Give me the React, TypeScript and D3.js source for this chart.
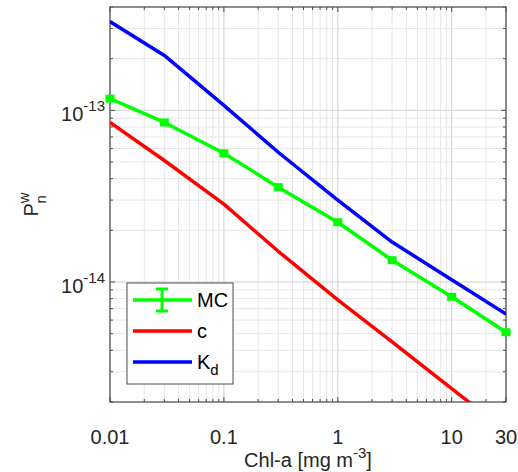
import React, { useRef, useEffect } from 'react';
import * as d3 from 'd3';

// Chl-a concentrations [mg m^-3]
const chl = [0.01, 0.03, 0.1, 0.3, 1, 3, 10, 30];
// series values
const mcVals = [1.17e-13, 8.5e-14, 5.62e-14, 3.57e-14, 2.23e-14, 1.34e-14, 8.2e-15, 5.1e-15];
const cVals = [8.5e-14, 5.1e-14, 2.84e-14, 1.51e-14, 7.86e-15, 4.48e-15, 2.39e-15, 1.36e-15];
const kdVals = [3.29e-13, 2.09e-13, 1.07e-13, 5.7e-14, 3.0e-14, 1.71e-14, 1.03e-14, 6.5e-15];
const xTicks = [0.01, 0.1, 1, 10, 30];
const xTickLabels = ['0.01', '0.1', '1', '10', '30'];
const yTickExps = [-14, -13];

const W = 518;
const H = 472;
const m = { left: 110, top: 7, right: 12, bottom: 70 };

const App = () => {
  const svgRef = useRef<SVGSVGElement>(null);

  useEffect(() => {
    const svg = d3.select(svgRef.current);
    svg.selectAll('*').remove();

    const x0 = m.left, x1 = W - m.right, y0 = m.top, y1 = H - m.bottom;
    const x = d3.scaleLog().domain([0.01, 30]).range([x0, x1]);
    const y = d3.scaleLog().domain([2e-15, 4e-13]).range([y1, y0]);

    svg.append('defs').append('clipPath').attr('id', 'plotclip')
      .append('rect').attr('x', x0).attr('y', y0).attr('width', x1 - x0).attr('height', y1 - y0);

    // minor / major grid values
    const xMinor: number[] = [];
    [0.01, 0.1, 1, 10].forEach((d) => {
      for (let k = 1; k <= 9; k++) if (d * k <= 30.0001) xMinor.push(d * k);
    });
    const yMinor: number[] = [];
    [1e-15, 1e-14, 1e-13].forEach((d) => {
      for (let k = 1; k <= 9; k++) {
        const v = d * k;
        if (v >= 2e-15 * 0.999 && v <= 4e-13 * 1.001) yMinor.push(v);
      }
    });

    const grid = svg.append('g');
    xMinor.forEach((v) => {
      grid.append('line').attr('x1', x(v)).attr('x2', x(v)).attr('y1', y0).attr('y2', y1)
        .attr('stroke', '#e6e6e6').attr('stroke-width', 1);
    });
    yMinor.forEach((v) => {
      grid.append('line').attr('x1', x0).attr('x2', x1).attr('y1', y(v)).attr('y2', y(v))
        .attr('stroke', '#e6e6e6').attr('stroke-width', 1);
    });
    xTicks.forEach((v) => {
      grid.append('line').attr('x1', x(v)).attr('x2', x(v)).attr('y1', y0).attr('y2', y1)
        .attr('stroke', '#dadada').attr('stroke-width', 1);
    });
    yTickExps.forEach((e) => {
      grid.append('line').attr('x1', x0).attr('x2', x1).attr('y1', y(10 ** e)).attr('y2', y(10 ** e))
        .attr('stroke', '#dadada').attr('stroke-width', 1);
    });

    // axes box + ticks
    const ax = svg.append('g').attr('stroke', '#4d4d4d');
    ax.append('rect').attr('x', x0).attr('y', y0).attr('width', x1 - x0).attr('height', y1 - y0)
      .attr('fill', 'none').attr('stroke-width', 1.2);
    xMinor.forEach((v) => {
      const major = xTicks.some((t) => Math.abs(t - v) / t < 1e-6);
      const len = major ? 5 : 3;
      ax.append('line').attr('x1', x(v)).attr('x2', x(v)).attr('y1', y1).attr('y2', y1 - len);
      ax.append('line').attr('x1', x(v)).attr('x2', x(v)).attr('y1', y0).attr('y2', y0 + len);
    });
    yMinor.forEach((v) => {
      const major = yTickExps.some((e) => Math.abs(10 ** e - v) / v < 1e-6);
      const len = major ? 5 : 3;
      ax.append('line').attr('x1', x0).attr('x2', x0 + len).attr('y1', y(v)).attr('y2', y(v));
      ax.append('line').attr('x1', x1).attr('x2', x1 - len).attr('y1', y(v)).attr('y2', y(v));
    });

    const font = 'Liberation Sans, Arial, sans-serif';
    // x tick labels
    xTicks.forEach((v, i) => {
      svg.append('text').attr('x', x(v)).attr('y', y1 + 42).attr('text-anchor', 'middle')
        .attr('font-family', font).attr('font-size', 20).attr('fill', '#262626').text(xTickLabels[i]);
    });
    // y tick labels 10^e
    yTickExps.forEach((e) => {
      const t = svg.append('text').attr('x', x0 - 5).attr('y', y(10 ** e) + 11).attr('text-anchor', 'end')
        .attr('font-family', font).attr('font-size', 20).attr('fill', '#262626');
      t.append('tspan').text('10');
      t.append('tspan').attr('dy', -10).attr('font-size', 15).text(String(e));
    });

    // axis labels
    const xl = svg.append('text').attr('x', (x0 + x1) / 2).attr('y', H - 5).attr('text-anchor', 'middle')
      .attr('font-family', font).attr('font-size', 20).attr('fill', '#262626');
    xl.append('tspan').text('Chl-a [mg m');
    xl.append('tspan').attr('dy', -9).attr('font-size', 15).text('-3');
    xl.append('tspan').attr('dy', 9).text(']');

    const yl = svg.append('text').attr('transform', `translate(38, ${(y0 + y1) / 2}) rotate(-90)`)
      .attr('text-anchor', 'middle').attr('font-family', font).attr('font-size', 20).attr('fill', '#262626');
    yl.append('tspan').text('P');
    yl.append('tspan').attr('dy', -9).attr('font-size', 15).text('w');
    yl.append('tspan').attr('dx', -11).attr('dy', 17).attr('font-size', 15).text('n');

    // series
    const line = d3.line<number>().x((_, i) => x(chl[i])).y((d) => y(d));
    const plot = svg.append('g').attr('clip-path', 'url(#plotclip)');
    const series = [
      { vals: cVals, color: '#ff0000' },
      { vals: kdVals, color: '#0000ff' },
      { vals: mcVals, color: '#00ff00' },
    ];
    series.forEach((s) => {
      plot.append('path').attr('d', line(s.vals)).attr('fill', 'none')
        .attr('stroke', s.color).attr('stroke-width', 3.5).attr('stroke-linejoin', 'round');
    });
    // MC markers (error bar caps)
    const mk = svg.append('g');
    mcVals.forEach((v, i) => {
      mk.append('rect').attr('x', x(chl[i]) - 4.5).attr('y', y(v) - 4).attr('width', 9).attr('height', 8)
        .attr('fill', '#00ff00');
    });

    // legend
    const lg = svg.append('g');
    const lx = 127, ly = 283, lw = 106, lh = 101;
    lg.append('rect').attr('x', lx).attr('y', ly).attr('width', lw).attr('height', lh)
      .attr('fill', '#fff').attr('stroke', '#4d4d4d').attr('stroke-width', 1);
    const entries = [
      { label: 'MC', sub: '', color: '#00ff00', err: true },
      { label: 'c', sub: '', color: '#ff0000', err: false },
      { label: 'K', sub: 'd', color: '#0000ff', err: false },
    ];
    entries.forEach((e, i) => {
      const yy = ly + 17 + i * 31;
      lg.append('line').attr('x1', lx + 6).attr('x2', lx + 65).attr('y1', yy).attr('y2', yy)
        .attr('stroke', e.color).attr('stroke-width', 3.5);
      if (e.err) {
        const cx = lx + 35;
        lg.append('line').attr('x1', cx).attr('x2', cx).attr('y1', yy - 11).attr('y2', yy + 11)
          .attr('stroke', e.color).attr('stroke-width', 3);
        [-11, 11].forEach((d) => {
          lg.append('line').attr('x1', cx - 6).attr('x2', cx + 6).attr('y1', yy + d).attr('y2', yy + d)
            .attr('stroke', e.color).attr('stroke-width', 3);
        });
      }
      const t = lg.append('text').attr('x', lx + 70).attr('y', yy + 7)
        .attr('font-family', font).attr('font-size', 20).attr('fill', '#000');
      t.append('tspan').text(e.label);
      if (e.sub) t.append('tspan').attr('dy', 6).attr('font-size', 15).text(e.sub);
    });
  }, []);

  return (
    <svg
      ref={svgRef}
      width={W}
      height={H}
      style={{ position: 'absolute', left: 0, top: 0, display: 'block', background: '#fff' }}
    />
  );
};

export default App;
